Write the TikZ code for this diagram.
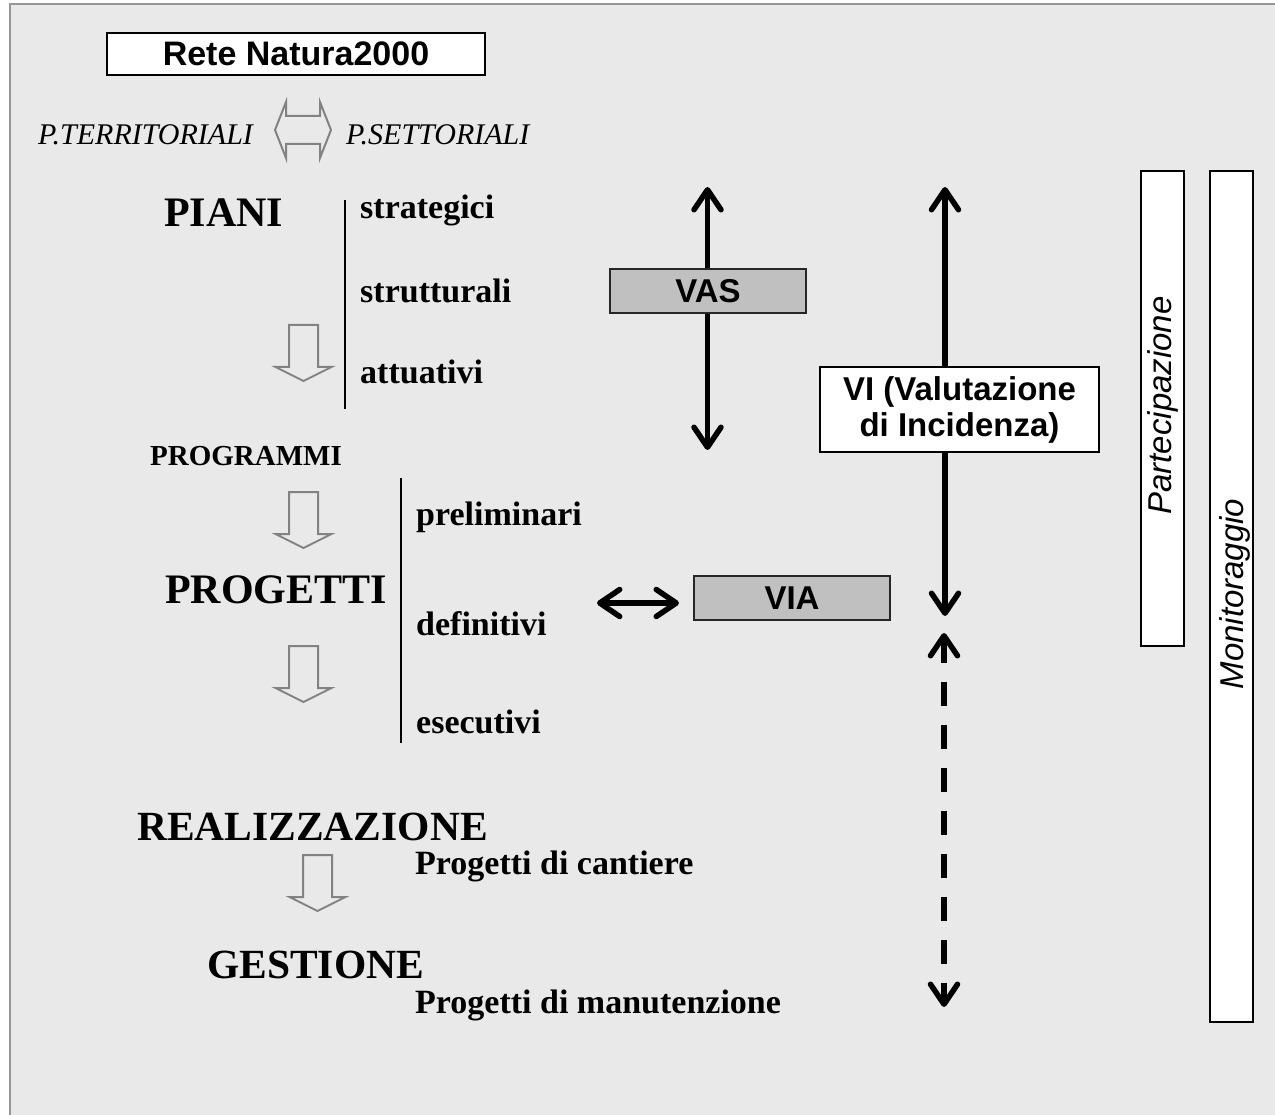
\documentclass[tikz,border=0pt]{standalone}
\usepackage{fontspec}
\setmainfont{Liberation Serif}
\setsansfont{Liberation Sans}
\usetikzlibrary{arrows.meta}
\definecolor{bg}{RGB}{233,233,233}
\definecolor{framec}{RGB}{150,150,150}
\definecolor{hollowc}{RGB}{130,130,130}
\definecolor{boxgray}{RGB}{192,192,192}
\newcommand{\fsz}[1]{\fontsize{#1}{#1}\selectfont}
\begin{document}
\begin{tikzpicture}[x=1pt,y=-1pt,
  lbl/.style={inner sep=0pt, anchor=base west},
  hollow/.style={draw=hollowc, line width=2pt, line join=miter},
  sepline/.style={draw=black, line width=2pt},
  bigarrow/.style={line width=5.5pt, {Straight Barb[length=20pt,width=27pt,round,line width=5.5pt]}-{Straight Barb[length=20pt,width=27pt,round,line width=5.5pt]}},
  dasharrow/.style={bigarrow, dash pattern=on 24pt off 19pt},
  whitebox/.style={draw=black, line width=2pt, fill=white, inner sep=0pt},
  graybox/.style={draw=black!85, line width=2pt, fill=boxgray, inner sep=0pt},
  pics/downarrow/.style={code={\draw[hollow] (-14.5,0) -- (14.5,0) -- (14.5,42) -- (28,42) -- (0,56) -- (-28,42) -- (-14.5,42) -- cycle;}}
]
\useasboundingbox (0,0) rectangle (1275,1115);
% background panel
\fill[bg] (10,4) rectangle (1276,1116);
\draw[framec, line width=2pt] (10,1116) -- (10,4) -- (1276,4);

% header
\node[whitebox, minimum width=378pt, minimum height=42pt, font=\sffamily\bfseries\fsz{34}] (rete) at (296,54) {Rete Natura2000};
\node[lbl, font=\itshape\fsz{30}] (pterr) at (38,145) {P.TERRITORIALI};
\node[lbl, font=\itshape\fsz{30}] (psett) at (346,145) {P.SETTORIALI};
\draw[hollow] (275,130) -- (286,102) -- (286,116) -- (320,116) -- (320,102) -- (331,130) -- (320,158) -- (320,144) -- (286,144) -- (286,158) -- cycle;

% left column
\node[lbl, font=\bfseries\fsz{42}] (piani) at (164,227) {PIANI};
\node[lbl, font=\bfseries\fsz{34}] (strat) at (360,219) {strategici};
\node[lbl, font=\bfseries\fsz{34}] (strut) at (360,303) {strutturali};
\node[lbl, font=\bfseries\fsz{34}] (attu) at (360,384) {attuativi};
\coordinate (s1a) at (345,200); \coordinate (s1b) at (345,409);
\draw[sepline] (s1a) -- (s1b);
\pic at (303.5,325) {downarrow};

\node[lbl, font=\bfseries\fsz{29}] (progr) at (150,465) {PROGRAMMI};
\pic at (303.5,492) {downarrow};
\node[lbl, font=\bfseries\fsz{42}] (prog) at (165,603) {PROGETTI};
\pic at (303.5,646) {downarrow};
\node[lbl, font=\bfseries\fsz{34}] (prel) at (416,525) {preliminari};
\node[lbl, font=\bfseries\fsz{34}] (defi) at (416,635) {definitivi};
\node[lbl, font=\bfseries\fsz{34}] (esec) at (416,733) {esecutivi};
\coordinate (s2a) at (401,478); \coordinate (s2b) at (401,743);
\draw[sepline] (s2a) -- (s2b);

\node[lbl, font=\bfseries\fsz{41.5}] (real) at (137,840) {REALIZZAZIONE};
\node[lbl, font=\bfseries\fsz{34}] (pcant) at (415,874) {Progetti di cantiere};
\pic at (317.5,855) {downarrow};
\node[lbl, font=\bfseries\fsz{41.5}] (gest) at (207,978) {GESTIONE};
\node[lbl, font=\bfseries\fsz{34}] (pmanu) at (415,1013) {Progetti di manutenzione};

% evaluation arrows
\coordinate (vasT) at (707.5,187); \coordinate (vasB) at (707.5,450);
\coordinate (viT) at (945,187);   \coordinate (viB) at (945,616);
\coordinate (dT) at (944,633);    \coordinate (dB) at (944,1007);
\coordinate (hL) at (597,603);    \coordinate (hR) at (679,603);
\draw[bigarrow] (vasT) -- (vasB);
\draw[bigarrow] (viT) -- (viB);
\draw[dasharrow] (dT) -- (dB);
\draw[bigarrow] (hL) -- (hR);

\node[graybox, minimum width=196pt, minimum height=44pt, font=\sffamily\bfseries\fsz{33}] (vas) at (708,291) {VAS};
\node[graybox, minimum width=196pt, minimum height=44pt, font=\sffamily\bfseries\fsz{33}] (via) at (792,598) {VIA};
\node[whitebox, minimum width=279pt, minimum height=85pt, align=center, font=\sffamily\bfseries\fontsize{33}{36}\selectfont] (vi) at (959.5,409.5) {VI (Valutazione\\di Incidenza)};

% side bands
\node[whitebox, minimum width=43pt, minimum height=475pt] (partbox) at (1162.5,408.5) {};
\node[whitebox, minimum width=43pt, minimum height=851pt] (monbox) at (1231.5,596.5) {};
\node[inner sep=0pt, anchor=base, rotate=90, font=\sffamily\itshape\fsz{33}] (part) at (1171,405.5) {Partecipazione};
\node[inner sep=0pt, anchor=base, rotate=90, font=\sffamily\itshape\fsz{33}] (mon) at (1243,594) {Monitoraggio};
\end{tikzpicture}
\end{document}
